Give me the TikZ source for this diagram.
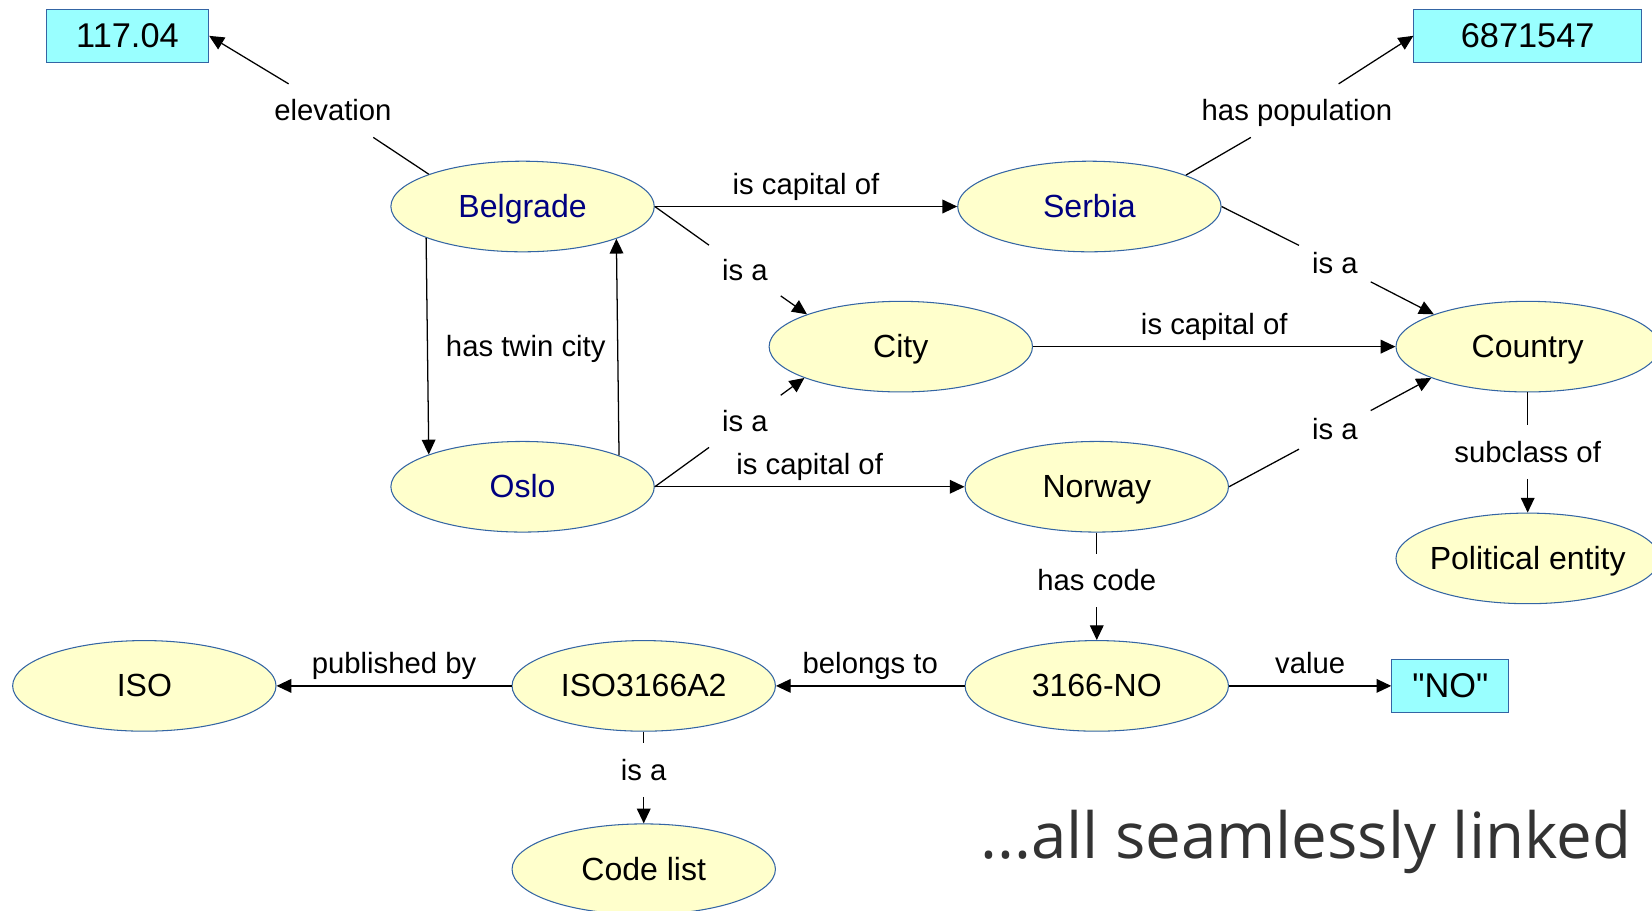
\documentclass[tikz,border=0pt]{standalone}
\usepackage{fontspec}
\setmainfont{Liberation Sans}
\newfontfamily\litfont{Liberation Sans}[Ligatures=TeXOff]
\newfontfamily\tagfont{Open Sans}
\usetikzlibrary{shapes.geometric,arrows.meta}
\definecolor{ellfill}{HTML}{FFFFCC}
\definecolor{ellline}{HTML}{3465A4}
\definecolor{boxfill}{HTML}{99FFFF}
\definecolor{navy}{HTML}{000080}
\definecolor{tagc}{HTML}{333333}
\begin{document}
\begin{tikzpicture}[x=0.5pt,y=-0.5pt,
  ent/.style={ellipse, draw=ellline, fill=ellfill, line width=0.5pt, minimum width=125pt, minimum height=43pt, inner xsep=-3pt, inner ysep=0pt, text height=10.4pt, text depth=0pt, font=\fontsize{15.2}{18}\selectfont},
  inst/.style={ent, text=navy},
  lit/.style={rectangle, draw=ellline, fill=boxfill, line width=0.5pt, minimum height=25pt, inner sep=0pt, font=\litfont\fontsize{16.3}{19}\selectfont},
  lbl/.style={inner xsep=6pt, inner ysep=0pt, text height=17.3pt, text depth=7.7pt, font=\fontsize{13.9}{16}\selectfont},
  hl/.style={inner sep=0pt, text height=10pt, text depth=2.8pt, font=\fontsize{13.9}{16}\selectfont, above=2.6pt},
  conn/.style={line width=0.6pt},
  arr/.style={conn, -{Triangle[length=7pt,width=6.5pt]}},
]
\useasboundingbox (0,0) rectangle (1568,864);

\node[inst] (bel) at (496,196) {Belgrade};
\node[inst] (ser) at (1034,196) {Serbia};
\node[ent] (city) at (855,329) {City};
\node[ent] (ctry) at (1450,329) {Country};
\node[inst] (osl) at (496,462) {Oslo};
\node[ent] (nor) at (1041,462) {Norway};
\node[ent] (pol) at (1450,530) {Political entity};
\node[ent] (iso) at (137,651) {ISO};
\node[ent] (isoa) at (611,651) {ISO3166A2};
\node[ent] (code) at (1041,651) {3166-NO};
\node[ent] (clist) at (611,825) {Code list};
\node[lit, minimum width=77pt] (elev) at (121,34) {117.04};
\node[lit, minimum width=108pt] (pop) at (1450,34) {6871547};
\node[lit, minimum width=55.5pt] (val) at (1376.5,651) {"NO"};

\draw[arr] (bel) -- node[hl]{is capital of} (ser);
\draw[arr] (city) -- node[hl]{is capital of} (ctry);
\draw[arr] (osl) -- node[hl]{is capital of} (nor);
\draw[arr] (code) -- node[hl]{belongs to} (isoa);
\draw[arr] (isoa) -- node[hl]{published by} (iso);
\draw[arr] (code) -- node[hl]{value} (val);

\draw[arr] (bel.198.7) -- (osl.161.3);
\draw[arr] (osl.18.7) -- (bel.341.3);
\node[lbl] (ltwin) at (499,329) {has twin city};

\node[lbl] (lelev) at (316,105) {elevation};
\draw[conn] (bel.161.3) -- (lelev);
\draw[arr] (lelev) -- (elev.east);

\node[lbl] (lpop) at (1231,105) {has population};
\draw[conn] (ser.18.7) -- (lpop);
\draw[arr] (lpop) -- (pop.west);

\node[lbl] (lisa1) at (707,257) {is a};
\draw[conn] (bel.east) -- (lisa1);
\draw[arr] (lisa1) -- (city.161.3);

\node[lbl] (lisa2) at (707,400) {is a};
\draw[conn] (osl.east) -- (lisa2);
\draw[arr] (lisa2) -- (city.198.7);

\node[lbl] (lisa3) at (1267,250) {is a};
\draw[conn] (ser.east) -- (lisa3);
\draw[arr] (lisa3) -- (ctry.161.3);

\node[lbl] (lisa4) at (1267,408) {is a};
\draw[conn] (nor.east) -- (lisa4);
\draw[arr] (lisa4) -- (ctry.198.7);

\node[lbl] (lsub) at (1450,429) {subclass of};
\draw[conn] (ctry.south) -- (lsub);
\draw[arr] (lsub) -- (pol.north);

\node[lbl] (lcode) at (1041,551) {has code};
\draw[conn] (nor.south) -- (lcode);
\draw[arr] (lcode) -- (code.north);

\node[lbl] (lisa5) at (611,731) {is a};
\draw[conn] (isoa.south) -- (lisa5);
\draw[arr] (lisa5) -- (clist.north);

\node[anchor=base west, inner sep=0pt, text=tagc, font=\tagfont\fontsize{30.2}{36}\selectfont] (tag) at (930,815) {...all seamlessly linked};
\end{tikzpicture}
\end{document}
